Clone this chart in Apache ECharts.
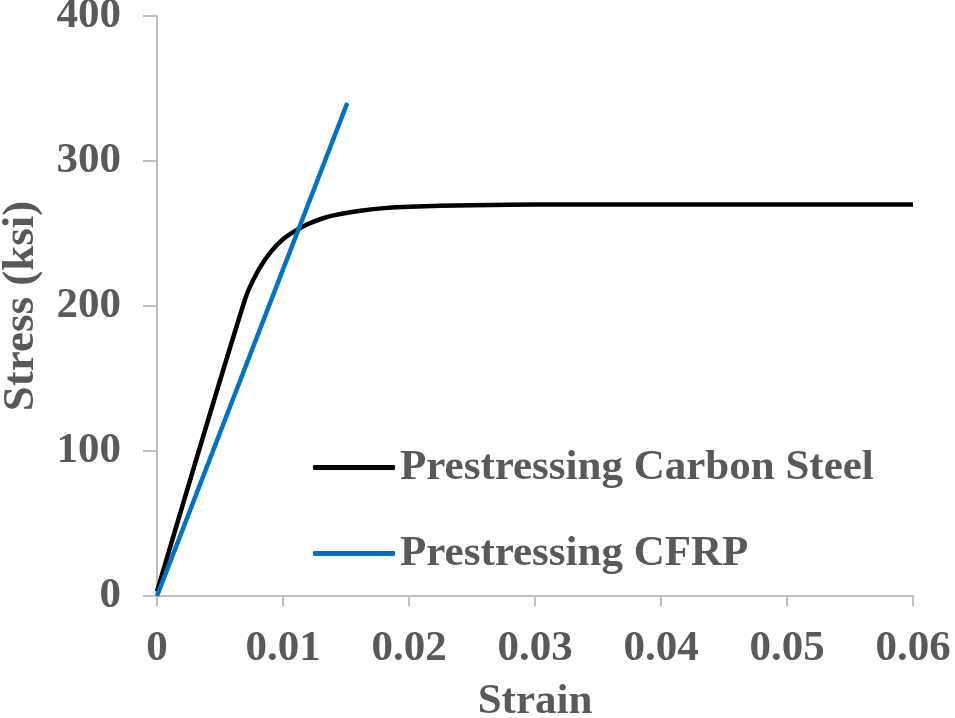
<!DOCTYPE html>
<html>
<head>
<meta charset="utf-8">
<script src="https://cdn.jsdelivr.net/npm/echarts@6/dist/echarts.min.js"></script>
<style>
  html, body { margin: 0; padding: 0; background: #fff; }
  #chart { width: 955px; height: 718px; }
</style>
</head>
<body>
<div id="chart"></div>
<script>
// values
const xTicks = [0, 0.01, 0.02, 0.03, 0.04, 0.05, 0.06];
const yTicks = [0, 100, 200, 300, 400];

const steelStrain = [0, 0.007, 0.008, 0.009, 0.010, 0.011, 0.012, 0.013, 0.014, 0.016, 0.018, 0.020, 0.025, 0.030, 0.060];
const steelStress = [3, 205, 224, 237, 246, 252, 256.5, 260, 262.5, 265.5, 267.5, 268.5, 269.5, 270, 270];

const cfrpStrain = [0, 0.0151];
const cfrpStress = [0, 340];

const font = 'Liberation Serif';
const grey = '#595959';

const chart = echarts.init(document.getElementById('chart'));
chart.setOption({
    animation: false,
    grid: { left: 157, right: 42, top: 16, bottom: 122, outerBoundsMode: 'none', containLabel: false },
    legend: {
        orient: 'vertical',
        left: 313,
        top: 446,
        padding: 0,
        itemWidth: 82,
        itemHeight: 5,
        itemGap: 43,
        icon: 'roundRect',
        textStyle: { fontFamily: font, fontWeight: 'bold', fontSize: 43, color: grey, lineHeight: 40 },
        data: ['Prestressing Carbon Steel', 'Prestressing CFRP']
    },
    xAxis: {
        type: 'value',
        min: 0,
        max: 0.06,
        interval: 0.01,
        name: 'Strain',
        nameLocation: 'middle',
        nameGap: 84,
        nameTextStyle: { fontFamily: font, fontWeight: 'bold', fontSize: 43, color: grey },
        axisLine: { show: true, lineStyle: { color: '#BFBFBF', width: 2 } },
        axisTick: { show: true, length: 10, lineStyle: { color: '#BFBFBF', width: 2 } },
        splitLine: { show: false },
        axisLabel: {
            margin: 31,
            fontFamily: font, fontWeight: 'bold', fontSize: 43, color: grey,
            formatter: function (v) { return xTicks.indexOf(v) >= 0 ? String(Number(v.toFixed(2))) : ''; }
        }
    },
    yAxis: {
        type: 'value',
        min: 0,
        max: 400,
        interval: 100,
        name: 'Stress (ksi)',
        nameLocation: 'middle',
        nameGap: 113,
        nameRotate: 90,
        nameTextStyle: { fontFamily: font, fontWeight: 'bold', fontSize: 45, color: grey },
        axisLine: { show: true, lineStyle: { color: '#BFBFBF', width: 2 } },
        axisTick: { show: true, length: 14, lineStyle: { color: '#BFBFBF', width: 2 } },
        splitLine: { show: false },
        axisLabel: {
            margin: 36,
            fontFamily: font, fontWeight: 'bold', fontSize: 43, color: grey,
            formatter: function (v) { return yTicks.indexOf(v) >= 0 ? String(v) : ''; }
        }
    },
    series: [
        {
            name: 'Prestressing Carbon Steel',
            type: 'line',
            data: steelStrain.map((x, i) => [x, steelStress[i]]),
            smooth: 0.3,
            showSymbol: false,
            color: '#000000',
            lineStyle: { width: 4.5, color: '#000000' }
        },
        {
            name: 'Prestressing CFRP',
            type: 'line',
            data: cfrpStrain.map((x, i) => [x, cfrpStress[i]]),
            showSymbol: false,
            color: '#0070C0',
            lineStyle: { width: 4.5, color: '#0070C0' }
        }
    ]
});
</script>
</body>
</html>
